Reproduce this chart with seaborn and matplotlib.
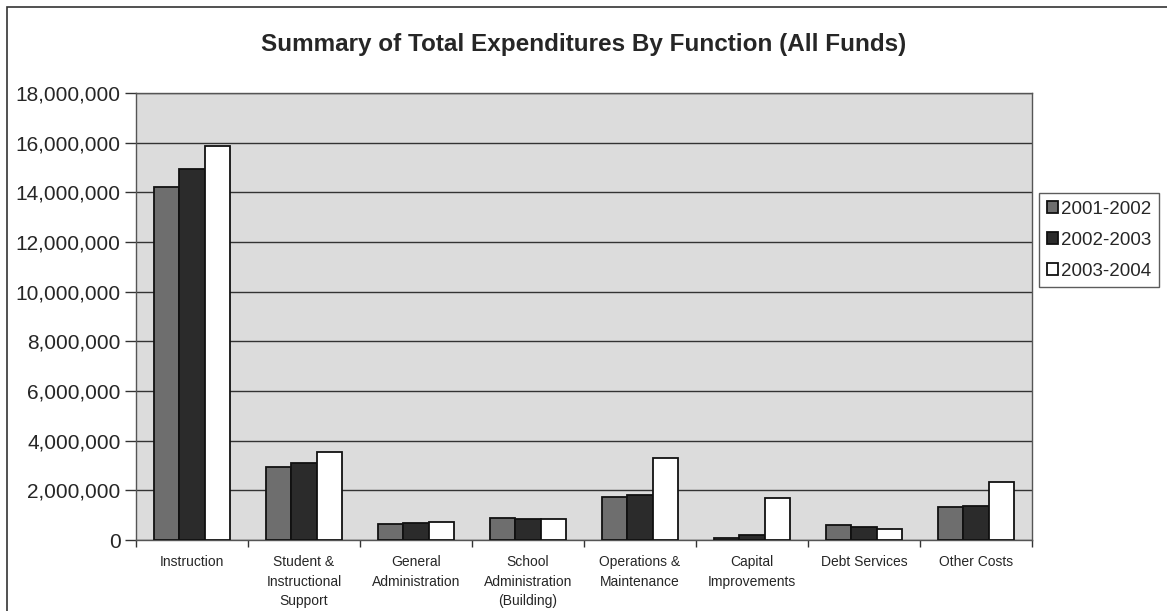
import matplotlib
matplotlib.use("Agg")
import matplotlib.pyplot as plt
import matplotlib.ticker as mticker
import seaborn as sns
import pandas as pd
import numpy as np

categories = [
    "Instruction",
    "Student &\nInstructional\nSupport",
    "General\nAdministration",
    "School\nAdministration\n(Building)",
    "Operations &\nMaintenance",
    "Capital\nImprovements",
    "Debt Services",
    "Other Costs",
]
years = ["2001-2002", "2002-2003", "2003-2004"]
fy2002 = [14200000, 2930000, 640000, 870000, 1740000, 70000, 600000, 1320000]
fy2003 = [14940000, 3100000, 700000, 830000, 1810000, 200000, 540000, 1370000]
fy2004 = [15870000, 3540000, 740000, 830000, 3290000, 1680000, 440000, 2350000]

df = pd.DataFrame({
    "Function": categories * 3,
    "Year": [y for y in years for _ in categories],
    "Amount": fy2002 + fy2003 + fy2004,
})

sns.set_theme(style="white")
plt.rcParams["font.family"] = ["Liberation Sans", "DejaVu Sans"]

fig = plt.figure(figsize=(11.67, 6.11), dpi=100)
ax = fig.add_axes([136 / 1167, 1 - 540 / 611, (1032 - 136) / 1167, (540 - 93) / 611])

palette = {"2001-2002": "#6e6e6e", "2002-2003": "#2b2b2b", "2003-2004": "#ffffff"}
sns.barplot(data=df, x="Function", y="Amount", hue="Year", palette=palette,
            width=0.67, gap=0, edgecolor="#111111", linewidth=1.3,
            errorbar=None, ax=ax, legend=True, zorder=3)

ax.set_facecolor("#dcdcdc")
ax.set_ylim(0, 18000000)
ax.set_xlim(-0.5, len(categories) - 0.5)
ax.yaxis.set_major_locator(mticker.MultipleLocator(2000000))
ax.yaxis.set_major_formatter(mticker.FuncFormatter(lambda v, p: f"{int(v):,}"))
ax.grid(axis="y", color="#333333", linewidth=1.0, zorder=0)
ax.set_axisbelow(True)
for s in ax.spines.values():
    s.set_color("#555555")
    s.set_linewidth(1.0)

ax.tick_params(axis="y", which="major", length=8, width=1, color="#333333",
               labelsize=15, pad=3, direction="out", left=True)
ax.set_xticks(range(len(categories)))
ax.set_xticklabels(categories, fontsize=10, linespacing=1.5, va="top")
ax.tick_params(axis="x", which="major", length=0, pad=11)
ax.set_xticks(np.arange(-0.5, len(categories) + 0.5, 1), minor=True)
ax.tick_params(axis="x", which="minor", length=5, width=1, color="#333333",
               bottom=True, direction="out")
ax.set_xlabel("")
ax.set_ylabel("")

ax.legend_.remove()
handles, labels = ax.get_legend_handles_labels()
leg = fig.legend(handles, labels, loc="upper left",
                 bbox_to_anchor=(1039 / 1167, 1 - 193 / 611),
                 fontsize=13.5, frameon=True, fancybox=False, edgecolor="#333333",
                 handlelength=0.6, handleheight=0.6, handletextpad=0.2,
                 labelspacing=0.75, borderpad=0.4, borderaxespad=0)
leg.get_frame().set_linewidth(1.0)

fig.text(0.5, 1 - 45 / 611, "Summary of Total Expenditures By Function (All Funds)",
         ha="center", va="center", fontsize=17.5, fontweight="bold")

# chart frame (top and left edges fall inside the image)
frame = plt.Rectangle((7 / 1167, -0.05), 1.1, 1.05 - 7 / 611, transform=fig.transFigure,
                      fill=False, edgecolor="#333333", linewidth=1.2)
fig.patches.append(frame)

fig.savefig("out.png", dpi=100)
